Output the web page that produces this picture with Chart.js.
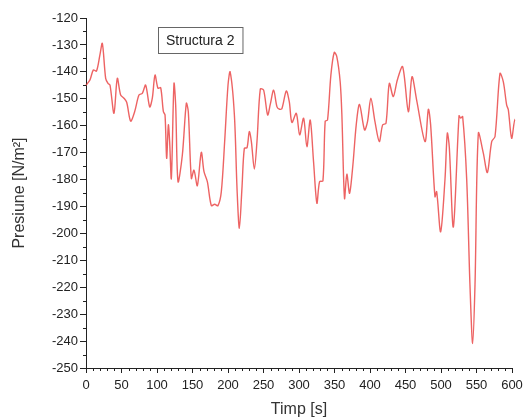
<!DOCTYPE html>
<html>
<head>
<meta charset="utf-8">
<script src="https://cdn.jsdelivr.net/npm/chart.js@4.4.1/dist/chart.umd.min.js"></script>
<style>
  body { margin: 0; background: #fff; }
  canvas { display: block; }
</style>
</head>
<body>
<canvas id="grafic" width="529" height="419"></canvas>
<script>
var timp = [
  0, 5.6, 10.3, 14.8, 19.6, 23, 27.7, 31, 33.8, 39.4,
  44.1, 48.8, 53.5, 57.3, 62.9, 68.5, 74.6, 79.3, 84, 89.7,
  93.4, 97.2, 101.4, 105.2, 109, 111.3, 113.6, 116, 117.8, 120.2,
  123.9, 126.3, 129.6, 135.7, 141.3, 144.1, 148.4, 152.1, 156.8, 162.4,
  166.2, 170.9, 176.5, 181.2, 185.9, 190.6, 195.3, 200, 203, 209,
  212.7, 216, 219.7, 223, 226.8, 230, 232.9, 237.1, 240.8, 245.5,
  250.2, 255.8, 259.6, 264.3, 269, 272.7, 276, 282.1, 286.3, 290,
  296.2, 300.9, 306.5, 311.1, 315.8, 320.5, 325.2, 329, 333.7, 336.9,
  340.2, 344.9, 349.6, 353.3, 358, 360.4, 364.1, 367.4, 371.2, 375.9,
  380.6, 385.2, 392.3, 396.5, 401.2, 407, 413.1, 417.8, 422.5, 427.2,
  432.8, 438.5, 446, 454, 459.2, 465.7, 477.5, 482.2, 485.4, 491.5,
  493.9, 499.5, 505.6, 508.9, 511.7, 517.4, 525.4, 527.7, 530.5, 536.2,
  540.8, 544.6, 547.9, 552.6, 559.6, 565.3, 571.4, 576.1, 583.1, 587.8,
  592.5, 594.8, 599.5, 604.2, 609
];
var presiune = [
  -145, -143, -139.3, -139.7, -133.7, -129.4, -142.4, -144.3, -144.9, -155.4,
  -142.4, -148.6, -149.8, -151.3, -158.3, -154.8, -148.6, -148, -144.9, -153,
  -149.8, -141.2, -146.1, -145.9, -154.8, -156, -172.1, -159.7, -165.9, -179.6,
  -144.3, -152.4, -180.8, -170.9, -151.7, -154.8, -179.6, -176.5, -182.3, -169.9,
  -177.1, -180.8, -189.7, -189.2, -189.7, -184.5, -165.9, -145, -140, -156,
  -183.3, -198.1, -183, -168.4, -168.2, -162.2, -165.9, -176.1, -165.9, -146.4,
  -146.8, -156, -152, -146.8, -153, -153.9, -153.6, -147.1, -151.1, -158.8,
  -155.4, -163.4, -157.2, -167.8, -157.9, -173.4, -188.8, -180.8, -180.5, -158.3,
  -157.9, -141.2, -132.8, -134.4, -143.7, -156, -187, -178, -185.1, -174.6,
  -159.7, -152.1, -161.6, -158.5, -149.8, -158.5, -165.9, -159.7, -159.1, -144.3,
  -149.2, -143, -138.1, -154.8, -141.8, -150.5, -165.9, -153.9, -159.7, -186.4,
  -184.5, -199.4, -180, -162.8, -168, -197.6, -156.3, -157.2, -156.6, -180,
  -219.2, -240.9, -219, -162.8, -170.2, -177.4, -165.9, -164, -140.6, -143.7,
  -152.4, -154, -164.7, -157.6, -164.5
];
var ticksX = [0, 50, 100, 150, 200, 250, 300, 350, 400, 450, 500, 550, 600];
var ticksY = [-250, -240, -230, -220, -210, -200, -190, -180, -170, -160, -150, -140, -130, -120];
var etichetaSerie = "Structura 2";
var titluX = "Timp [s]";
var titluY = "Presiune [N/m²]";

var font = "'Liberation Sans', Arial, sans-serif";

var puncte = timp.map(function(t, i) {
  return { x: t, y: presiune[i] };
});

// liniute mici intre gradatiile principale
var liniutePlugin = {
  id: "liniute",
  afterDraw: function(chart) {
    var ctx = chart.ctx;
    var sx = chart.scales.x;
    var sy = chart.scales.y;
    ctx.save();
    ctx.strokeStyle = "#222";
    ctx.lineWidth = 1;
    ctx.beginPath();
    for (var i = 0; i < ticksX.length - 1; i++) {
      var pas = (ticksX[i + 1] - ticksX[i]) / 5;
      for (var k = 1; k < 5; k++) {
        var px = Math.round(sx.getPixelForValue(ticksX[i] + k * pas)) + 0.5;
        ctx.moveTo(px, sx.top);
        ctx.lineTo(px, sx.top + 3);
      }
    }
    for (var j = 0; j < ticksY.length - 1; j++) {
      var py = Math.round(sy.getPixelForValue((ticksY[j] + ticksY[j + 1]) / 2)) + 0.5;
      ctx.moveTo(sy.right, py);
      ctx.lineTo(sy.right - 3, py);
    }
    ctx.stroke();
    ctx.restore();
  }
};

// caseta cu numele seriei
var casetaPlugin = {
  id: "caseta",
  afterDraw: function(chart) {
    var ctx = chart.ctx;
    var a = chart.chartArea;
    var x = a.left + 72;
    var y = a.top + 9;
    ctx.save();
    ctx.font = "14px " + font;
    var w = ctx.measureText(etichetaSerie).width + 16;
    ctx.fillStyle = "#fff";
    ctx.fillRect(x, y, w, 26);
    ctx.strokeStyle = "#666";
    ctx.lineWidth = 1;
    ctx.strokeRect(x + 0.5, y + 0.5, w, 26);
    ctx.fillStyle = "#222";
    ctx.textBaseline = "middle";
    ctx.fillText(etichetaSerie, x + 8, y + 14);
    ctx.restore();
  }
};

new Chart(document.getElementById("grafic"), {
  type: "line",
  data: {
    datasets: [{
      label: etichetaSerie,
      data: puncte,
      borderColor: "rgba(232, 60, 60, 0.8)",
      borderWidth: 1.4,
      pointRadius: 0,
      tension: 0.3,
      clip: false
    }]
  },
  options: {
    responsive: false,
    animation: false,
    layout: { padding: { left: 0, top: 18, right: 17, bottom: 0 } },
    plugins: {
      legend: { display: false },
      tooltip: { enabled: false }
    },
    scales: {
      x: {
        type: "linear",
        min: 0,
        max: 600,
        afterBuildTicks: function(scale) {
          scale.ticks = ticksX.map(function(v) { return { value: v }; });
        },
        afterFit: function(scale) { scale.height = 51; },
        grid: { drawOnChartArea: false, tickLength: 5, color: "#222" },
        border: { display: true, color: "#222", width: 1 },
        ticks: {
          maxRotation: 0,
          padding: 5,
          color: "#222",
          font: { family: font, size: 13 }
        },
        title: {
          display: true,
          text: titluX,
          color: "#333",
          padding: { top: 0, bottom: 0 },
          font: { family: font, size: 16 }
        }
      },
      y: {
        type: "linear",
        min: -250,
        max: -120,
        afterBuildTicks: function(scale) {
          scale.ticks = ticksY.map(function(v) { return { value: v }; });
        },
        afterFit: function(scale) { scale.width = 86; },
        grid: { drawOnChartArea: false, tickLength: 6, color: "#222" },
        border: { display: true, color: "#222", width: 1 },
        ticks: {
          padding: 2,
          color: "#222",
          font: { family: font, size: 13 }
        },
        title: {
          display: true,
          text: titluY,
          color: "#333",
          padding: { top: 10, bottom: 0 },
          font: { family: font, size: 16 }
        }
      }
    }
  },
  plugins: [liniutePlugin, casetaPlugin]
});
</script>
</body>
</html>
